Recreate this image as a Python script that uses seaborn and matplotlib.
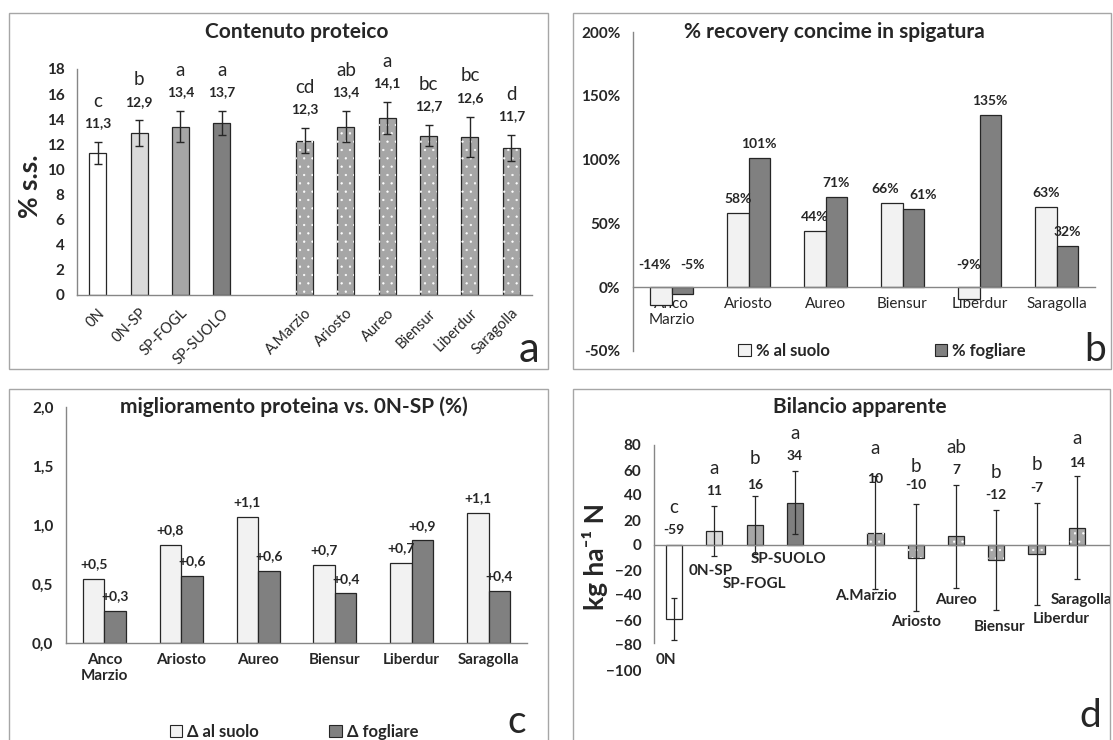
import numpy as np
import pandas as pd
import matplotlib
matplotlib.use("Agg")
import matplotlib.pyplot as plt
from matplotlib.patches import Rectangle, Patch
import seaborn as sns

# dati
trattamenti = ["0N", "0N-SP", "SP-FOGL", "SP-SUOLO"]
varieta = ["A.Marzio", "Ariosto", "Aureo", "Biensur", "Liberdur", "Saragolla"]
cultivar = ["Anco\nMarzio", "Ariosto", "Aureo", "Biensur", "Liberdur", "Saragolla"]

proteina = [11.3, 12.9, 13.4, 13.7, 12.3, 13.4, 14.1, 12.7, 12.6, 11.7]
proteina_err = [0.9, 1.0, 1.25, 0.95, 1.0, 1.25, 1.25, 0.85, 1.6, 1.05]
proteina_lettere = ["c", "b", "a", "a", "cd", "ab", "a", "bc", "bc", "d"]

recovery_suolo = [-14, 58, 44, 66, -9, 63]
recovery_fogliare = [-5, 101, 71, 61, 135, 32]

delta_suolo = [0.54, 0.83, 1.07, 0.66, 0.68, 1.10]
delta_fogliare = [0.27, 0.57, 0.61, 0.42, 0.87, 0.44]

bilancio = [-59, 11, 16, 34, 10, -10, 7, -12, -7, 14]
bilancio_err = [17, 20, 23, 25.5, 45.5, 43, 41, 40, 41, 41.5]
bilancio_lettere = ["c", "a", "b", "a", "a", "b", "ab", "b", "b", "a"]

W, H = 1113, 740
GRIGIO = "#868686"
BORDO = "#262626"


def box(l, t, r, b):
    return [l / W, 1 - b / H, (r - l) / W, (b - t) / H]


def fxy(x, y):
    return (x / W, 1 - y / H)


def virgola(v, fmt):
    return format(v, fmt).replace(".", ",")


sns.set_style("white")
plt.rcParams["font.family"] = ["Lato", "DejaVu Sans"]
plt.rcParams["hatch.linewidth"] = 0.4

fig = plt.figure(figsize=(W / 100, H / 100), dpi=100)

# cornici dei quattro pannelli
for l, t, r, b in [(9, 13, 548, 369), (573, 13, 1111, 369), (9, 389, 548, 745), (573, 389, 1110, 745)]:
    fig.add_artist(Rectangle(fxy(l, b), (r - l) / W, (b - t) / H, transform=fig.transFigure,
                             fill=False, edgecolor="#a6a6a6", linewidth=1))


def stile_assi(ax):
    for s in ["top", "right"]:
        ax.spines[s].set_visible(False)
    for s in ["left", "bottom"]:
        ax.spines[s].set_color(GRIGIO)
        ax.spines[s].set_linewidth(1)
    ax.set_xlabel("")
    ax.set_ylabel("")
    ax.tick_params(axis="y", which="major", direction="out", length=5, color=GRIGIO,
                   labelsize=11, pad=4)
    for lab in ax.get_yticklabels():
        lab.set_fontweight("bold")


order = trattamenti + [" "] + varieta
tesi = trattamenti + varieta
pos = [order.index(t) for t in tesi]
pos_var = [order.index(v) for v in varieta]
colori = {"0N": "white", "0N-SP": "#d9d9d9", "SP-FOGL": "#a6a6a6", "SP-SUOLO": "#7f7f7f"}
colori.update({v: "#a6a6a6" for v in varieta})

# ---------------- a: Contenuto proteico ----------------
ax = fig.add_axes(box(77, 69, 532, 295))
df_a = pd.DataFrame({"tesi": tesi, "proteina": proteina})
sns.barplot(data=df_a, x="tesi", y="proteina", order=order, hue="tesi", palette=colori,
            legend=False, width=0.41, errorbar=None, edgecolor=BORDO, linewidth=0.9, ax=ax)
ax.bar(pos_var, proteina[4:], width=0.41, fill=False, hatch="..", edgecolor="white", linewidth=0)
ax.errorbar(pos, proteina, yerr=proteina_err, fmt="none", ecolor=BORDO, elinewidth=1,
            capsize=3, capthick=1)
ax.set_xlim(-0.5, 10.5)
ax.set_ylim(0, 18)
ax.set_yticks(np.arange(0, 19, 2))
stile_assi(ax)
ax.set_xticks(range(len(order)))
ax.set_xticklabels(order, rotation=45, ha="right", va="top", rotation_mode="anchor", fontsize=10.5)
ax.set_xticks(np.arange(-0.5, 11, 1), minor=True)
ax.tick_params(axis="x", which="major", length=0, pad=8)
ax.tick_params(axis="x", which="minor", direction="out", length=5, color=GRIGIO)
for p, v, e, l in zip(pos, proteina, proteina_err, proteina_lettere):
    yv = v + e + 1.5
    ax.text(p, yv, virgola(v, ".1f"), ha="center", va="center", fontsize=10, fontweight="bold")
    ax.text(p, yv + 1.75, l, ha="center", va="center", fontsize=13.5)
fig.text(*fxy(297, 32), "Contenuto proteico", ha="center", va="center", fontsize=15,
         fontweight="bold")
fig.text(*fxy(30, 186), "% s.s.", ha="center", va="center", rotation=90, fontsize=19,
         fontweight="bold")
fig.text(*fxy(529, 350), "a", ha="center", va="center", fontsize=30)


def grafico_coppie(ax, serie, nomi, colori_s, offset, fmt_lab):
    df = pd.DataFrame({"cultivar": cultivar * 2,
                       "serie": [nomi[0]] * 6 + [nomi[1]] * 6,
                       "valore": serie[0] + serie[1]})
    sns.barplot(data=df, x="cultivar", y="valore", hue="serie", palette=colori_s, legend=False,
                width=0.56, errorbar=None, edgecolor=BORDO, linewidth=0.9, ax=ax, zorder=2)
    # posizione delle etichette: sopra la barra, o sopra lo zero se negativa
    ys = [[v + offset if v >= 0 else offset * 1.6 for v in s] for s in serie]
    for k, (cont, vals) in enumerate(zip(ax.containers, serie)):
        for j, (bar, v) in enumerate(zip(cont, vals)):
            x = bar.get_x() + bar.get_width() / 2
            vicino = abs(ys[0][j] - ys[1][j]) < offset * 1.3
            if vicino:
                x += -0.08 if k == 0 else 0.13
            ax.text(x, ys[k][j], fmt_lab(v), ha="center", va="center", fontsize=10,
                    fontweight="bold", zorder=4)
    ax.set_xlim(-0.5, 5.5)
    ax.set_xticks(np.arange(-0.5, 6, 1), minor=True)
    ax.tick_params(axis="x", which="major", length=0, pad=7, labelsize=11)
    ax.tick_params(axis="x", which="minor", direction="out", length=4, color=GRIGIO)
    for lab in ax.get_xticklabels():
        lab.set_fontweight("bold")


# ---------------- b: % recovery ----------------
ax = fig.add_axes(box(633, 32, 1095, 351))
col_b = {"% al suolo": "#f2f2f2", "% fogliare": "#808080"}
grafico_coppie(ax, [recovery_suolo, recovery_fogliare], list(col_b), col_b, 11,
               lambda v: f"{v}%")
ax.set_ylim(-50, 200)
ax.set_yticks(np.arange(-50, 201, 50))
ax.set_yticklabels([f"{v}%" for v in np.arange(-50, 201, 50)])
stile_assi(ax)
ax.spines["bottom"].set_position(("data", 0))
fig.text(*fxy(834, 32), "% recovery concime in spigatura", ha="center", va="center",
         fontsize=15, fontweight="bold")
fig.legend([Patch(facecolor=c, edgecolor=BORDO, linewidth=0.8) for c in col_b.values()],
           list(col_b), loc="center", bbox_to_anchor=fxy(882, 351), ncol=2, frameon=False,
           handlelength=0.75, handleheight=0.75, handletextpad=0.3, columnspacing=6.3,
           prop={"weight": "bold", "size": 12})
fig.text(*fxy(1095, 350), "b", ha="center", va="center", fontsize=28)

# ---------------- c: miglioramento proteina ----------------
ax = fig.add_axes(box(66, 407, 527, 643))
col_c = {"Δ al suolo": "#f2f2f2", "Δ fogliare": "#808080"}
grafico_coppie(ax, [delta_suolo, delta_fogliare], list(col_c), col_c, 0.125,
               lambda v: "+" + virgola(v, ".1f"))
ax.set_ylim(0, 2)
ax.set_yticks(np.arange(0, 2.01, 0.5))
ax.set_yticklabels([virgola(v, ".1f") for v in np.arange(0, 2.01, 0.5)])
stile_assi(ax)
fig.text(*fxy(294, 407), "miglioramento proteina vs. 0N-SP (%)", ha="center", va="center",
         fontsize=15, fontweight="bold")
fig.legend([Patch(facecolor=c, edgecolor=BORDO, linewidth=0.8) for c in col_c.values()],
           list(col_c), loc="center", bbox_to_anchor=fxy(294, 732), ncol=2, frameon=False,
           handlelength=0.75, handleheight=0.75, handletextpad=0.3, columnspacing=4.2,
           prop={"weight": "bold", "size": 12})
fig.text(*fxy(517, 722), "c", ha="center", va="center", fontsize=28)

# ---------------- d: Bilancio apparente ----------------
ax = fig.add_axes(box(654, 445, 1109, 670))
df_d = pd.DataFrame({"tesi": tesi, "bilancio": bilancio})
sns.barplot(data=df_d, x="tesi", y="bilancio", order=order, hue="tesi", palette=colori,
            legend=False, width=0.4, errorbar=None, edgecolor=BORDO, linewidth=0.9, ax=ax)
ax.bar(pos_var, bilancio[4:], width=0.4, fill=False, hatch="..", edgecolor="white", linewidth=0)
ax.errorbar(pos, bilancio, yerr=bilancio_err, fmt="none", ecolor=BORDO, elinewidth=0.9,
            capsize=2.5, capthick=0.9)
ax.set_xlim(-0.5, 10.8)
ax.set_ylim(-100, 80)
ax.set_yticks(np.arange(-100, 81, 20))
stile_assi(ax)
ax.spines["bottom"].set_position(("data", 0))
ax.spines["left"].set_bounds(-78, 80)
ax.set_xticks([])
# posizione etichette (come spostate a mano nell'originale)
sposta_val = [0, 0, -3, 0, -15, 3, 0, 0, 0, -2]
sposta_lett = [0, 0, 0, 0, -8, 0, 0, 0, 0, 0]
nomi_y = [-92, -21, -31, -11, -41, -61.6, -44, -65.6, -59, -44]
nomi_dx = [-0.2, -0.08, 0, -0.15, -0.25, 0, 0, 0.08, 0.62, 0.12]
for i, (p, v, e, l) in enumerate(zip(pos, bilancio, bilancio_err, bilancio_lettere)):
    base = max(0, v + e) + 12
    ax.text(p, base + sposta_val[i], f"{v}", ha="center", va="center", fontsize=10,
            fontweight="bold")
    ax.text(p, base + 18 + sposta_lett[i], l, ha="center", va="center", fontsize=13.5)
    ax.text(p + nomi_dx[i], nomi_y[i], tesi[i], ha="center", va="center", fontsize=11,
            fontweight="bold", clip_on=False)
fig.text(*fxy(860, 407), "Bilancio apparente", ha="center", va="center", fontsize=15,
         fontweight="bold")
fig.text(*fxy(595, 556), "kg ha\u207b\u00b9 N", ha="center", va="center", rotation=90,
         fontsize=19, fontweight="bold")
fig.text(*fxy(1090, 716), "d", ha="center", va="center", fontsize=28)

fig.savefig("out.png", dpi=100)
